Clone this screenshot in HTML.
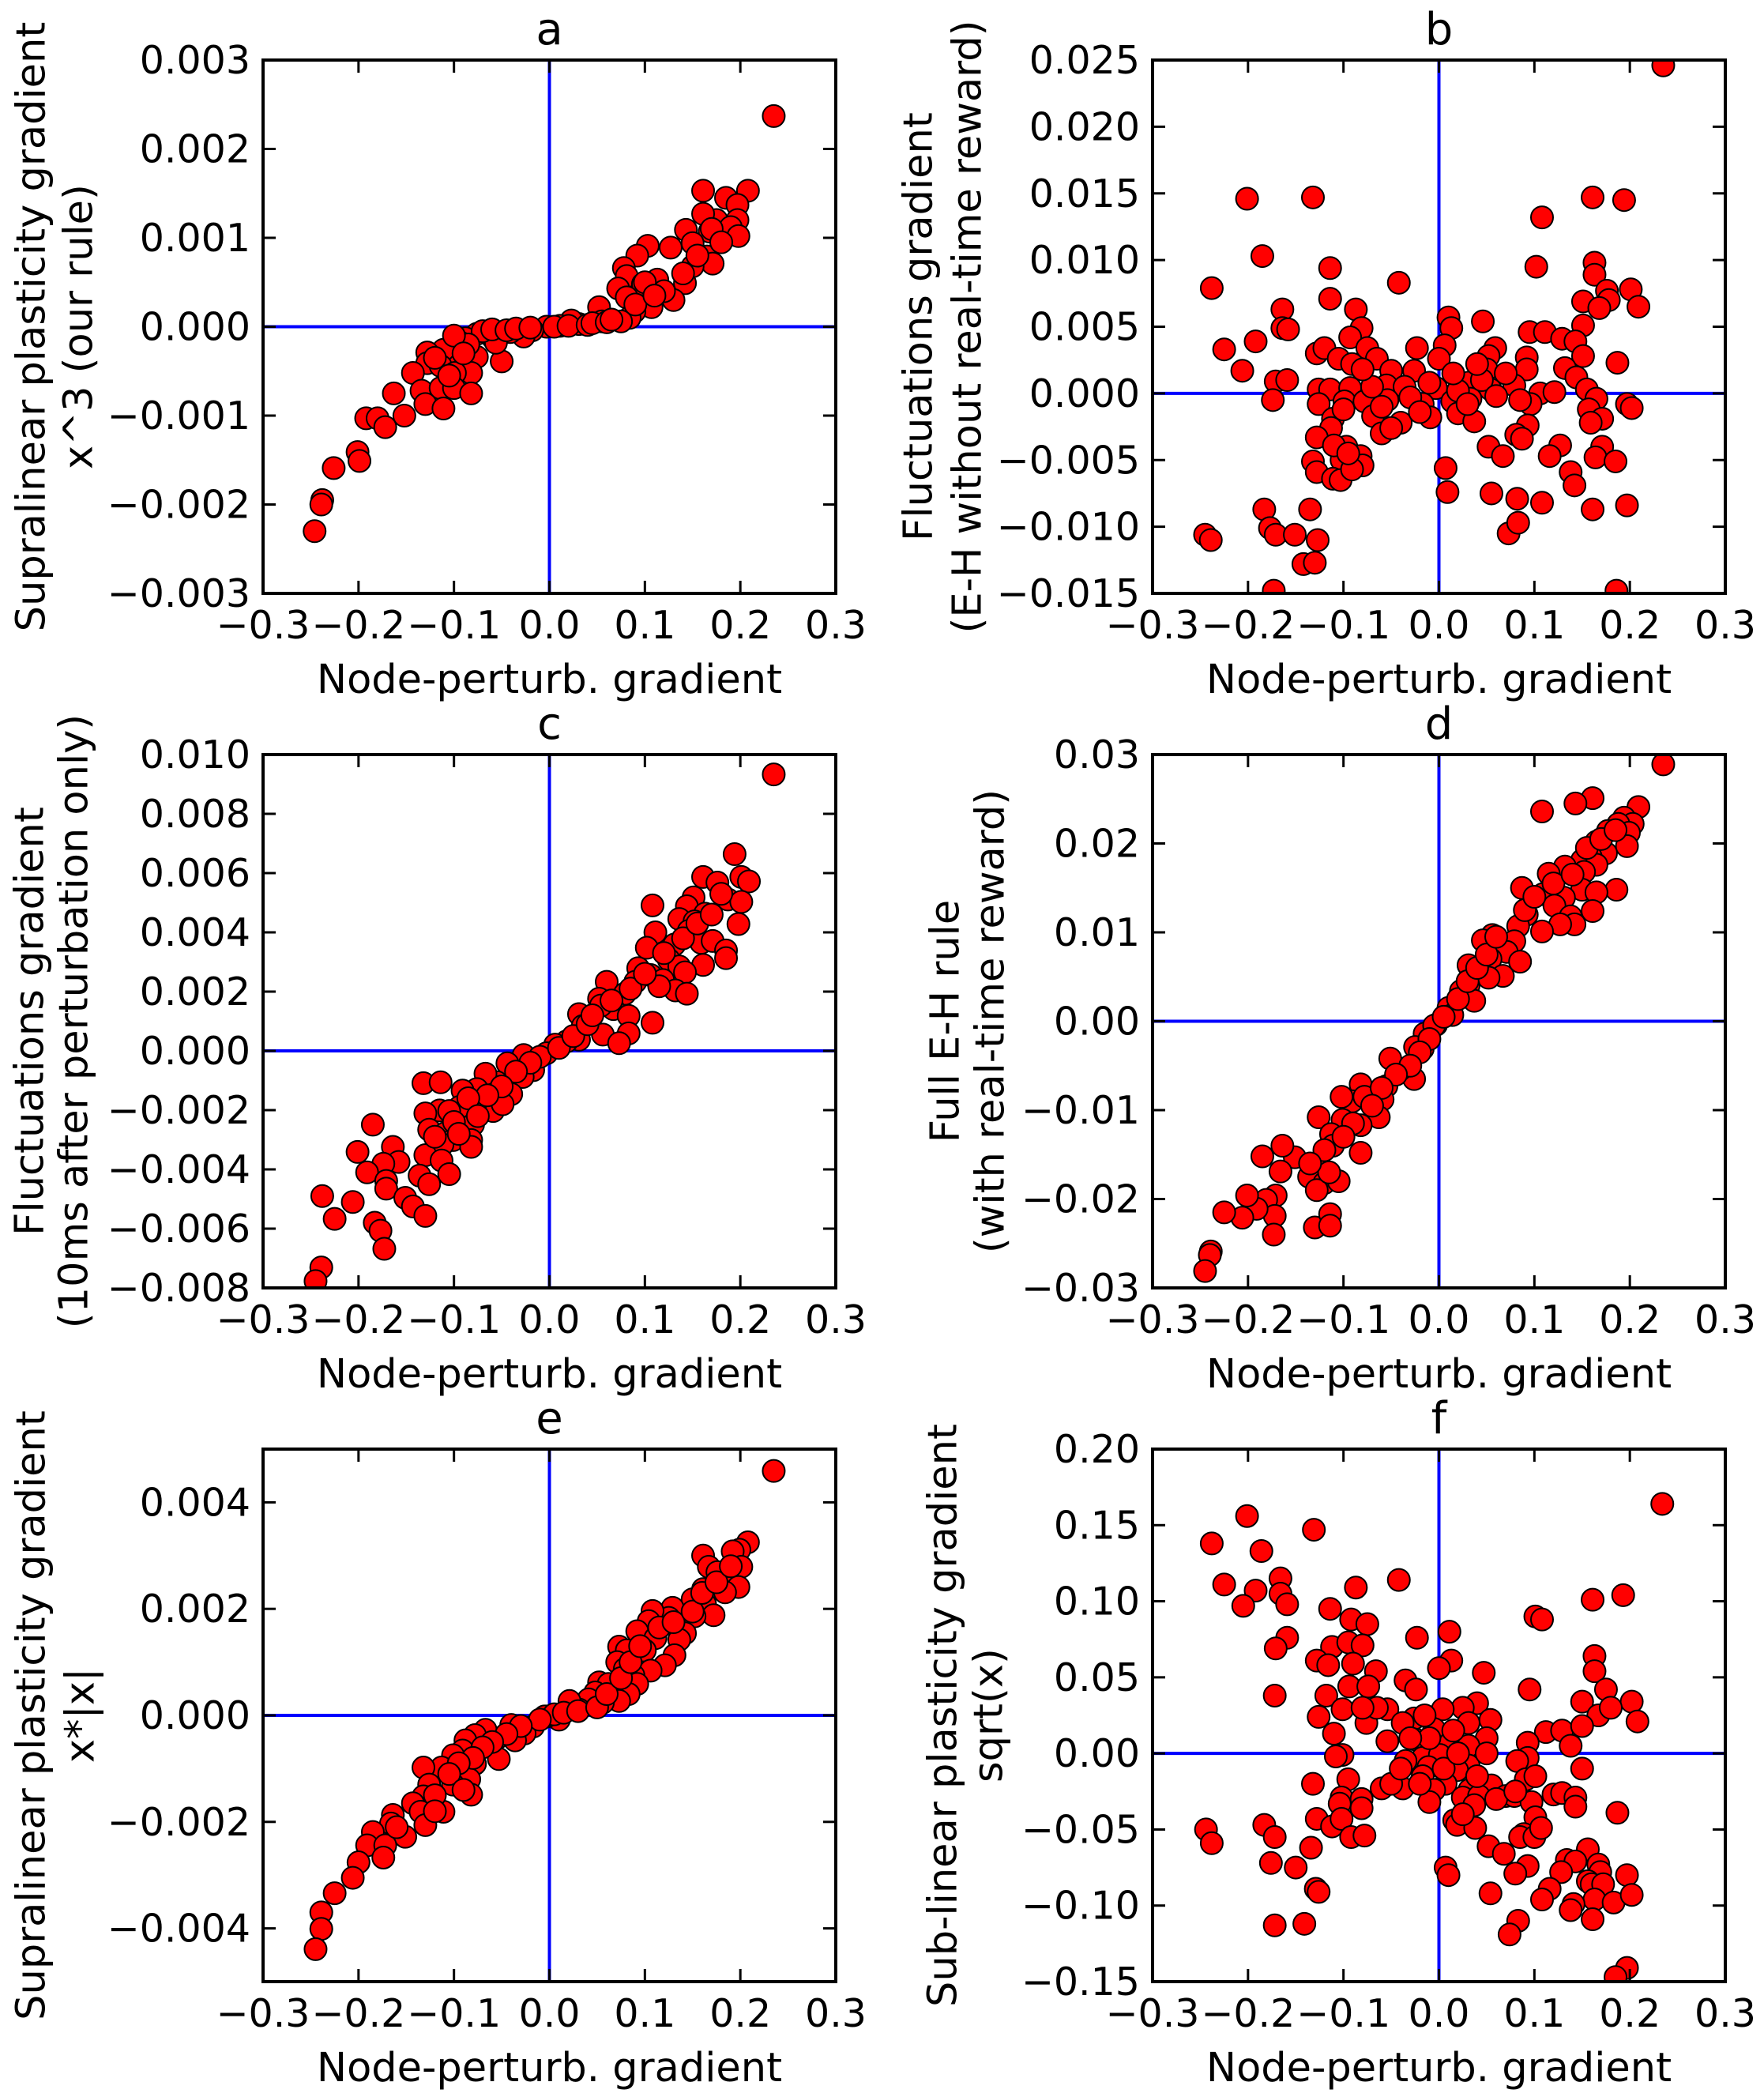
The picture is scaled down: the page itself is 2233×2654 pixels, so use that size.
<!DOCTYPE html>
<html><head><meta charset="utf-8"><style>
html,body{margin:0;padding:0;background:#fff;}
svg{display:block;}
text{font-family:"DejaVu Sans","Liberation Sans",sans-serif;fill:#000;}
</style></head>
<body>
<svg id="fig" width="2233" height="2654" viewBox="0 0 2233 2654" xmlns="http://www.w3.org/2000/svg"></svg>
<script>
// x ticks shared
const xTicks = [-0.3,-0.2,-0.1,0.0,0.1,0.2,0.3];
const xTickLabels = ["\u22120.3","\u22120.2","\u22120.1","0.0","0.1","0.2","0.3"];

// Panel a (y in units of 1e-3)
const aX = [0.235,0.161,0.208,0.185,0.197,0.197,0.175,0.161,0.190,0.168,0.198,0.143,0.127,0.150,0.103,0.092,0.165,0.171,0.078,0.150,0.081,0.113,0.142,0.098,0.072,0.130,0.081,0.107,0.052,0.089,0.084,0.075,0.055,0.031,0.023,0.011,-0.003,-0.018,-0.027,-0.041,-0.053,-0.059,-0.067,-0.076,-0.088,-0.093,-0.050,-0.056,-0.076,-0.096,-0.111,-0.128,-0.128,-0.114,-0.082,-0.099,-0.143,-0.134,-0.114,-0.100,-0.082,-0.130,-0.111,-0.163,-0.152,-0.192,-0.180,-0.172,-0.201,-0.199,-0.226,-0.238,-0.239,-0.246,
  -0.07,-0.06,-0.045,-0.035,-0.02,0.005,0.02,0.04,0.045,0.06,0.065,-0.085,-0.10,-0.12,-0.105,-0.09,0.10,0.12,0.14,0.155,0.17,0.18,0.09,0.11];
const aY = [2.37,1.53,1.53,1.45,1.37,1.20,1.20,1.27,1.12,1.07,1.02,1.09,0.89,0.94,0.91,0.80,0.79,0.71,0.66,0.68,0.57,0.53,0.49,0.48,0.43,0.30,0.33,0.22,0.22,0.17,0.10,0.06,0.06,0.03,0.07,0.01,0.00,-0.04,-0.11,-0.06,-0.08,-0.13,-0.06,-0.08,-0.13,-0.18,-0.39,-0.18,-0.34,-0.34,-0.26,-0.29,-0.41,-0.44,-0.52,-0.52,-0.52,-0.72,-0.69,-0.69,-0.75,-0.87,-0.92,-0.75,-1.00,-1.03,-1.03,-1.13,-1.41,-1.51,-1.59,-1.95,-2.00,-2.30,
  -0.05,-0.03,-0.04,-0.02,-0.01,0.00,0.01,0.02,0.04,0.05,0.08,-0.20,-0.10,-0.35,-0.55,-0.30,0.50,0.40,0.60,0.80,1.10,0.95,0.25,0.35];
const aYTicks = [3,2,1,0,-1,-2,-3];
const aYTickLabels = ["0.003","0.002","0.001","0.000","\u22120.001","\u22120.002","\u22120.003"];

// Panel b (y in units of 1e-3)
const bX = [0.235,-0.201,-0.132,0.161,0.194,0.108,-0.185,0.102,-0.114,0.163,0.163,-0.238,-0.042,0.201,0.176,0.209,0.178,0.151,0.168,-0.114,-0.164,-0.087,0.010,0.046,-0.164,-0.158,-0.081,0.095,0.111,0.151,0.013,-0.225,-0.192,-0.093,0.129,0.143,-0.128,-0.120,-0.075,-0.023,0.006,0.059,0.151,-0.105,-0.065,-0.091,0.000,0.052,0.092,0.187,-0.206,-0.050,-0.026,0.050,0.092,0.132,0.144,-0.171,-0.159,-0.126,-0.114,-0.093,-0.055,-0.036,-0.003,0.031,0.054,0.079,0.106,0.121,0.155,-0.174,-0.126,-0.099,-0.078,-0.054,-0.017,0.014,0.033,0.096,0.165,0.197,0.202,-0.111,-0.069,-0.040,-0.009,0.020,0.037,0.157,0.171,0.159,-0.113,-0.060,0.093,-0.128,0.081,0.087,-0.097,0.052,0.067,0.127,0.116,0.171,0.164,0.185,-0.132,-0.102,-0.082,-0.080,-0.128,-0.111,-0.103,-0.091,0.007,0.138,0.142,0.009,0.055,0.082,0.108,0.161,0.197,-0.183,-0.135,-0.177,-0.171,-0.151,-0.127,-0.245,-0.239,0.073,0.083,-0.142,-0.130,-0.173,0.186,
  -0.07,-0.06,-0.03,-0.01,0.02,0.03,0.045,0.06,-0.08,-0.05,0.07,-0.10,0.085,-0.02,0.015,-0.11,-0.095,0.04];
const bY = [24.6,14.6,14.7,14.7,14.5,13.2,10.3,9.5,9.4,9.8,8.9,7.9,8.3,7.8,7.7,6.5,7.0,6.9,6.4,7.1,6.3,6.3,5.7,5.4,4.9,4.8,4.9,4.6,4.6,5.1,4.9,3.3,3.9,4.2,4.1,3.9,3.0,3.4,3.4,3.4,3.6,3.4,2.8,2.6,2.6,2.2,2.6,2.8,2.7,2.3,1.7,1.7,1.7,1.8,1.8,1.9,1.2,0.9,1.0,0.3,0.3,0.4,0.6,0.5,0.4,0.8,0.3,0.6,0.0,0.1,0.3,-0.5,-0.8,-0.6,-0.6,-0.5,-0.8,-0.6,-0.4,-0.8,-0.4,-0.8,-1.1,-1.9,-1.7,-2.2,-1.8,-1.5,-2.1,-1.2,-1.9,-2.2,-2.6,-3.0,-2.4,-3.3,-3.1,-3.4,-4.0,-4.0,-4.7,-3.9,-4.7,-4.0,-4.8,-5.1,-5.1,-5.0,-4.7,-5.4,-5.9,-6.4,-6.5,-5.7,-5.6,-5.9,-6.9,-7.4,-7.5,-7.9,-8.2,-8.7,-8.4,-8.7,-8.7,-10.1,-10.6,-10.6,-11.0,-10.6,-11.0,-10.5,-9.7,-12.8,-12.7,-14.8,-14.8,
  0.5,-1.0,-0.3,0.8,0.2,-0.8,1.0,-0.2,1.8,-2.6,1.5,-1.2,-0.5,-1.4,1.5,-3.9,-4.5,2.2];
const bYTicks = [25,20,15,10,5,0,-5,-10,-15];
const bYTickLabels = ["0.025","0.020","0.015","0.010","0.005","0.000","\u22120.005","\u22120.010","\u22120.015"];

// Panel c (y in units of 1e-3)
const cX = [0.235,0.194,0.161,0.176,0.201,0.209,0.108,0.151,0.144,0.187,0.201,0.163,0.136,0.152,0.198,0.111,0.146,0.159,0.131,0.171,0.185,0.185,0.102,0.125,0.136,0.161,0.142,0.093,0.106,0.090,0.060,0.119,0.132,0.144,0.115,0.079,0.052,0.067,0.083,0.054,0.031,0.108,0.035,0.056,0.083,0.073,0.031,0.018,0.006,-0.003,-0.017,-0.027,-0.017,-0.044,-0.028,-0.055,-0.067,-0.040,-0.059,-0.049,-0.076,-0.091,-0.132,-0.114,-0.078,-0.094,-0.115,-0.105,-0.130,-0.080,-0.126,-0.109,-0.101,-0.112,-0.082,-0.082,-0.185,-0.164,-0.201,-0.158,-0.174,-0.130,-0.113,-0.136,-0.105,-0.126,-0.191,-0.171,-0.171,-0.238,-0.206,-0.151,-0.143,-0.130,-0.225,-0.183,-0.177,-0.173,-0.239,-0.245,
  -0.01,-0.02,0.01,0.025,0.04,0.045,-0.035,-0.05,-0.065,-0.085,-0.10,-0.12,0.065,0.085,0.10,0.12,0.14,0.155,0.17,0.18,-0.095,-0.075];
const cY = [9.33,6.64,5.87,5.68,5.87,5.72,4.91,5.18,4.88,5.11,5.03,4.63,4.45,4.37,4.28,4.00,4.05,3.65,3.59,3.71,3.39,3.13,3.48,3.08,2.85,2.90,2.65,2.79,2.56,2.33,2.33,2.39,2.04,1.93,2.18,1.93,1.76,1.41,1.18,1.53,1.24,0.95,0.84,0.55,0.59,0.26,0.38,0.32,0.21,-0.08,-0.31,-0.14,-0.65,-0.42,-0.88,-1.06,-0.77,-1.46,-2.03,-1.80,-1.29,-1.34,-1.09,-1.06,-1.84,-1.89,-2.01,-2.03,-2.11,-2.49,-2.66,-2.78,-3.01,-3.16,-3.01,-3.24,-2.49,-3.24,-3.41,-3.75,-3.81,-3.52,-3.70,-4.21,-4.16,-4.50,-4.10,-4.39,-4.65,-4.90,-5.10,-4.96,-5.25,-5.57,-5.67,-5.80,-6.07,-6.68,-7.31,-7.77,
  -0.2,-0.4,0.1,0.5,0.9,1.2,-0.7,-1.2,-1.5,-1.6,-2.4,-2.9,1.7,2.1,2.6,3.3,3.8,4.3,4.6,5.3,-2.8,-2.2];
const cYTicks = [10,8,6,4,2,0,-2,-4,-6,-8];
const cYTickLabels = ["0.010","0.008","0.006","0.004","0.002","0.000","\u22120.002","\u22120.004","\u22120.006","\u22120.008"];

// Panel d (y in units of 1e-3)
const dX = [0.235,0.161,0.143,0.108,0.209,0.194,0.203,0.188,0.177,0.199,0.165,0.197,0.175,0.159,0.150,0.132,0.165,0.152,0.115,0.087,0.186,0.150,0.165,0.109,0.131,0.161,0.121,0.138,0.142,0.092,0.083,0.127,0.108,0.056,0.046,0.079,0.071,0.085,0.054,0.067,0.031,0.052,0.031,0.023,0.037,0.010,0.014,-0.003,-0.015,-0.017,-0.025,-0.026,-0.040,-0.051,-0.055,-0.059,-0.063,-0.082,-0.091,-0.102,-0.078,-0.082,-0.101,-0.126,-0.113,-0.111,-0.082,-0.126,-0.136,-0.120,-0.105,-0.128,-0.151,-0.164,-0.185,-0.166,-0.171,-0.181,-0.172,-0.191,-0.201,-0.206,-0.225,-0.173,-0.130,-0.114,-0.114,-0.239,-0.240,-0.245,
  -0.005,0.005,0.02,0.03,0.04,0.05,0.06,-0.01,-0.02,-0.03,-0.045,-0.06,-0.07,-0.09,-0.10,-0.12,0.09,0.10,0.12,0.14,0.155,0.17,0.185,-0.115,-0.135];
const dY = [28.9,25.1,24.5,23.6,24.1,22.9,22.2,22.2,21.4,21.2,20.2,19.7,18.9,18.5,18.1,17.4,17.6,16.8,16.6,15.0,14.8,14.8,14.5,14.3,13.9,12.4,13.0,11.8,10.9,12.0,10.7,10.9,10.1,9.7,9.1,9.0,7.8,6.7,7.0,5.1,6.3,4.9,4.0,3.4,2.3,1.5,0.7,-0.4,-1.4,-3.1,-2.9,-6.5,-5.4,-4.2,-7.3,-8.8,-10.8,-7.1,-9.0,-8.5,-8.5,-11.7,-11.1,-10.8,-12.7,-14.0,-14.8,-15.9,-17.5,-18.2,-18.0,-19.0,-15.3,-14.0,-15.2,-16.9,-19.6,-20.1,-21.9,-21.1,-19.6,-22.1,-21.5,-24.0,-23.2,-21.7,-23.0,-25.9,-26.3,-28.1,
  -0.5,0.5,2.5,4.5,6.0,7.5,9.5,-2.0,-3.5,-5.0,-6.0,-7.5,-9.5,-11.5,-13.0,-14.5,12.5,14.0,15.5,16.5,19.5,20.5,21.5,-17.0,-16.0];
const dYTicks = [30,20,10,0,-10,-20,-30];
const dYTickLabels = ["0.03","0.02","0.01","0.00","\u22120.01","\u22120.02","\u22120.03"];

// Panel e (y in units of 1e-3)
const eX = [0.235,0.208,0.199,0.192,0.201,0.186,0.198,0.184,0.161,0.167,0.176,0.161,0.150,0.163,0.172,0.152,0.129,0.125,0.108,0.104,0.092,0.142,0.136,0.111,0.073,0.081,0.100,0.131,0.121,0.071,0.079,0.106,0.088,0.092,0.052,0.062,0.083,0.073,0.048,0.056,0.041,0.031,0.021,0.010,-0.003,-0.017,-0.026,-0.040,-0.036,-0.055,-0.053,-0.067,-0.078,-0.088,-0.091,-0.101,-0.078,-0.113,-0.132,-0.084,-0.101,-0.126,-0.132,-0.082,-0.111,-0.143,-0.135,-0.130,-0.164,-0.166,-0.151,-0.185,-0.191,-0.172,-0.174,-0.200,-0.206,-0.225,-0.239,-0.239,-0.245,
  -0.005,0.005,0.015,0.03,0.05,-0.01,-0.03,-0.045,-0.06,-0.07,-0.08,-0.095,-0.105,-0.12,-0.09,0.06,0.075,0.085,0.095,0.115,0.13,0.15,0.16,0.175,0.19,-0.16,-0.12];
const eY = [4.59,3.25,3.11,3.08,2.79,2.63,2.41,2.31,3.00,2.79,2.69,2.37,2.18,2.09,1.88,1.86,2.02,1.83,1.96,1.77,1.58,1.54,1.42,1.45,1.29,1.22,1.22,1.13,0.94,1.00,0.87,0.84,0.75,0.59,0.62,0.59,0.40,0.27,0.43,0.24,0.30,0.11,0.27,-0.08,-0.02,-0.21,-0.34,-0.18,-0.47,-0.43,-0.82,-0.27,-0.37,-0.47,-0.66,-0.75,-0.91,-0.98,-0.98,-1.20,-1.30,-1.30,-1.52,-1.49,-1.81,-1.65,-1.81,-2.06,-1.87,-2.03,-2.28,-2.19,-2.44,-2.44,-2.67,-2.76,-3.05,-3.34,-3.70,-4.01,-4.39,
  -0.02,0.02,0.05,0.08,0.15,-0.08,-0.20,-0.35,-0.50,-0.60,-0.80,-0.90,-1.10,-1.50,-1.40,0.40,0.70,1.00,1.30,1.65,1.75,1.95,2.30,2.50,2.80,-2.10,-1.80];
const eYTicks = [4,2,0,-2,-4];
const eYTickLabels = ["0.004","0.002","0.000","\u22120.002","\u22120.004"];

// Panel f
const fX = [0.234,-0.201,-0.131,-0.238,-0.186,-0.225,-0.192,-0.166,-0.166,-0.159,-0.205,-0.087,-0.042,0.161,0.193,0.101,0.108,-0.114,-0.092,-0.075,0.011,-0.023,-0.159,-0.171,-0.112,-0.095,-0.080,-0.128,-0.116,-0.090,0.013,0.000,0.047,-0.066,0.163,0.163,-0.035,-0.172,-0.118,-0.094,-0.074,-0.024,0.095,0.175,0.040,0.025,0.150,0.202,-0.126,-0.101,-0.054,-0.026,0.004,0.054,0.167,0.180,0.208,-0.076,-0.110,-0.038,-0.005,0.031,0.050,0.112,0.129,0.150,-0.054,-0.024,0.012,0.031,0.093,0.138,-0.101,-0.108,-0.017,0.001,-0.035,0.093,0.082,-0.011,0.031,0.019,0.150,0.091,0.101,-0.095,-0.017,-0.132,-0.060,-0.038,0.007,0.032,0.055,0.070,0.079,0.120,0.129,-0.005,-0.102,-0.081,0.025,0.042,0.143,0.097,0.037,-0.081,-0.010,-0.104,0.143,0.187,0.101,-0.128,0.016,0.019,0.038,-0.244,-0.238,-0.183,-0.172,-0.112,-0.102,-0.092,-0.078,0.089,0.085,0.100,0.107,0.052,0.068,-0.134,0.156,-0.176,-0.150,0.093,0.080,0.134,0.143,0.167,0.169,0.128,0.007,0.010,0.197,0.156,0.160,0.172,-0.129,-0.126,0.116,0.108,0.054,0.163,0.183,0.202,0.141,0.138,0.161,0.083,0.074,-0.172,-0.141,0.197,0.185,
  -0.01,0.005,-0.02,0.02,-0.03,0.015,-0.05,0.04,-0.065,0.06,-0.08,0.08,-0.015,0.025,-0.04,0.05];
const fY = [0.164,0.156,0.147,0.138,0.133,0.111,0.107,0.115,0.105,0.098,0.097,0.109,0.114,0.101,0.104,0.090,0.088,0.095,0.088,0.085,0.080,0.076,0.076,0.069,0.070,0.073,0.071,0.061,0.058,0.059,0.061,0.056,0.053,0.054,0.064,0.054,0.048,0.038,0.038,0.044,0.044,0.042,0.042,0.042,0.033,0.030,0.034,0.034,0.024,0.029,0.029,0.023,0.029,0.022,0.025,0.030,0.021,0.020,0.013,0.020,0.016,0.020,0.010,0.014,0.015,0.018,0.008,0.009,0.007,0.005,0.007,0.005,-0.001,-0.002,-0.003,-0.001,-0.005,-0.003,-0.005,-0.009,-0.008,-0.011,-0.010,-0.017,-0.015,-0.017,-0.015,-0.020,-0.023,-0.023,-0.020,-0.024,-0.021,-0.028,-0.028,-0.027,-0.026,-0.024,-0.029,-0.030,-0.029,-0.028,-0.029,-0.032,-0.034,-0.036,-0.032,-0.033,-0.035,-0.039,-0.042,-0.043,-0.044,-0.047,-0.049,-0.050,-0.059,-0.047,-0.055,-0.048,-0.043,-0.055,-0.054,-0.053,-0.055,-0.055,-0.049,-0.061,-0.066,-0.062,-0.063,-0.072,-0.075,-0.074,-0.079,-0.070,-0.071,-0.073,-0.078,-0.078,-0.075,-0.080,-0.080,-0.084,-0.086,-0.086,-0.089,-0.091,-0.089,-0.096,-0.092,-0.096,-0.098,-0.093,-0.099,-0.103,-0.109,-0.110,-0.119,-0.113,-0.112,-0.141,-0.147,
  0.010,-0.010,-0.020,0.000,0.010,0.015,-0.020,-0.015,0.030,-0.030,0.030,-0.025,0.025,-0.040,-0.010,0.000];
const fYTicks = [0.20,0.15,0.10,0.05,0.00,-0.05,-0.10,-0.15];
const fYTickLabels = ["0.20","0.15","0.10","0.05","0.00","\u22120.05","\u22120.10","\u22120.15"];

const NS = "http://www.w3.org/2000/svg";
const svg = document.getElementById('fig');
function mk(tag, attrs, parent){
  const el = document.createElementNS(NS, tag);
  for (const k in attrs) el.setAttribute(k, attrs[k]);
  (parent||svg).appendChild(el);
  return el;
}

const FS = 49;
const panels = [
  {id:'a', L:333, T:76, R:1058, B:751, ymin:-3, ymax:3, X:aX, Y:aY, yt:aYTicks, ytl:aYTickLabels,
   lab:["Supralinear plasticity gradient","x^3 (our rule)"], lx:[38,98]},
  {id:'b', L:1459, T:76, R:2184, B:751, ymin:-15, ymax:25, X:bX, Y:bY, yt:bYTicks, ytl:bYTickLabels,
   lab:["Fluctuations gradient","(E-H without real-time reward)"], lx:[1161,1223]},
  {id:'c', L:333, T:955, R:1058, B:1630, ymin:-8, ymax:10, X:cX, Y:cY, yt:cYTicks, ytl:cYTickLabels,
   lab:["Fluctuations gradient","(10ms after perturbation only)"], lx:[36,92]},
  {id:'d', L:1459, T:955, R:2184, B:1630, ymin:-30, ymax:30, X:dX, Y:dY, yt:dYTicks, ytl:dYTickLabels,
   lab:["Full E-H rule","(with real-time reward)"], lx:[1195,1252]},
  {id:'e', L:333, T:1834, R:1058, B:2508, ymin:-5, ymax:5, X:eX, Y:eY, yt:eYTicks, ytl:eYTickLabels,
   lab:["Supralinear plasticity gradient","x*|x|"], lx:[38,100]},
  {id:'f', L:1459, T:1834, R:2184, B:2508, ymin:-0.15, ymax:0.20, X:fX, Y:fY, yt:fYTicks, ytl:fYTickLabels,
   lab:["Sub-linear plasticity gradient","sqrt(x)"], lx:[1192,1250]}
];

panels.forEach(p => {
  const g = mk('g', {});
  
  
  const sx = v => p.L + (v + 0.3) / 0.6 * (p.R - p.L);
  const sy = v => p.B - (v - p.ymin) / (p.ymax - p.ymin) * (p.B - p.T);
  const clip = mk('clipPath', {id:'clip-' + p.id}, g);
  mk('rect', {x:p.L, y:p.T, width:p.R-p.L, height:p.B-p.T}, clip);

  const zx = mk('line', {x1:sx(0), x2:sx(0), y1:p.T, y2:p.B, stroke:'#0000ff', 'stroke-width':4}, g);
  
  
  const zy = mk('line', {x1:p.L, x2:p.R, y1:sy(0), y2:sy(0), stroke:'#0000ff', 'stroke-width':4}, g);
  
  

  const pg = mk('g', {'clip-path':'url(#clip-' + p.id + ')'}, g);
  
  
  for (let i = 0; i < p.X.length; i++) {
    const c = mk('circle', {cx:sx(p.X[i]), cy:sy(p.Y[i]), r:14, fill:'#ff0000', stroke:'#000', 'stroke-width':2}, pg);
    
    
  }

  xTicks.forEach((t, i) => {
    const x = sx(t);
    mk('line', {x1:x, x2:x, y1:p.B, y2:p.B-16, stroke:'#000', 'stroke-width':3}, g);
    mk('line', {x1:x, x2:x, y1:p.T, y2:p.T+16, stroke:'#000', 'stroke-width':3}, g);
    const tx = mk('text', {x:x, y:p.B+57, 'font-size':FS, 'text-anchor':'middle'}, g);
    tx.textContent = xTickLabels[i];
    
    
  });
  p.yt.forEach((t, i) => {
    const y = sy(t);
    mk('line', {x1:p.L, x2:p.L+16, y1:y, y2:y, stroke:'#000', 'stroke-width':3}, g);
    mk('line', {x1:p.R, x2:p.R-16, y1:y, y2:y, stroke:'#000', 'stroke-width':3}, g);
    const ty = mk('text', {x:p.L-16, y:y+17, 'font-size':FS, 'text-anchor':'end'}, g);
    ty.textContent = p.ytl[i];
    
    
  });

  const fr = mk('rect', {x:p.L, y:p.T, width:p.R-p.L, height:p.B-p.T, fill:'none', stroke:'#000', 'stroke-width':4}, g);
  
  

  const ti = mk('text', {x:(p.L+p.R)/2, y:p.T-20, 'font-size':56, 'text-anchor':'middle'}, g);
  ti.textContent = p.id;
  
  

  const xl = mk('text', {x:(p.L+p.R)/2, y:p.B+126, 'font-size':51, 'text-anchor':'middle'}, g);
  xl.textContent = 'Node-perturb. gradient';
  
  

  const cy = (p.T + p.B) / 2;
  p.lab.forEach((s, k) => {
    const yl = mk('text', {x:p.lx[k], y:cy, dy:'0.36em', 'font-size':51, 'text-anchor':'middle',
      transform:'rotate(-90 ' + p.lx[k] + ' ' + cy + ')'}, g);
    yl.textContent = s;
    
    
  });
});
</script>
</body></html>
